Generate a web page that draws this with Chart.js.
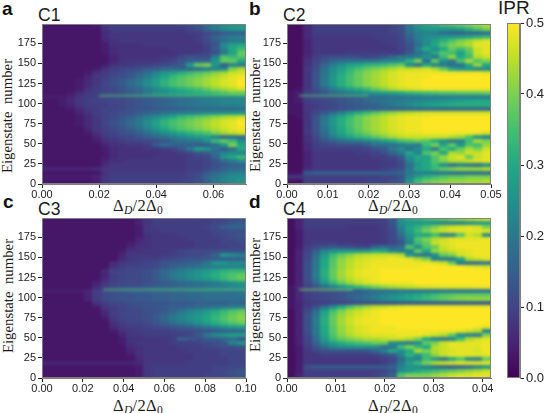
<!DOCTYPE html>
<html>
<head>
<meta charset="utf-8">
<script src="https://cdn.jsdelivr.net/npm/chart.js@4"></script>
<style>
html,body{margin:0;padding:0;background:#fff;overflow:hidden}
#page{position:relative;width:545px;height:413px;overflow:hidden}
canvas{position:absolute}
.t{position:absolute;white-space:pre;line-height:1;color:#1a1a1a;font-family:"Liberation Sans",sans-serif}
.letter{font-weight:bold;font-size:19px;color:#111}
.run{font-size:17.5px}
.ylab{font-family:"Liberation Serif",serif;font-size:14.8px;transform:translate(-50%,-50%) rotate(-90deg)}
.xlab{font-family:"Liberation Serif",serif;font-size:16.5px;letter-spacing:.3px;transform:translate(-50%,-50%)}
.xlab sub{font-size:70%;line-height:0;vertical-align:-3px}
</style>
</head>
<body>
<div id="page">
<span class="t letter" style="left:2px;top:-1px">a</span>
<span class="t letter" style="left:249px;top:-1px">b</span>
<span class="t letter" style="left:3px;top:192px">c</span>
<span class="t letter" style="left:249px;top:192px">d</span>
<span class="t run" style="left:38px;top:7px">C1</span>
<span class="t run" style="left:283px;top:7px">C2</span>
<span class="t run" style="left:38px;top:201px">C3</span>
<span class="t run" style="left:283px;top:201px">C4</span>
<span class="t" style="left:498px;top:-2px;font-size:19px">IPR</span>
<span class="t ylab" style="left:7px;top:116px">Eigenstate  number</span>
<span class="t ylab" style="left:255px;top:115px">Eigenstate  number</span>
<span class="t ylab" style="left:8px;top:296px">Eigenstate  number</span>
<span class="t ylab" style="left:255px;top:295px">Eigenstate  number</span>
<span class="t xlab" style="left:138px;top:206px">Δ<sub><i>D</i></sub>/2Δ<sub>0</sub></span>
<span class="t xlab" style="left:393px;top:206px">Δ<sub><i>D</i></sub>/2Δ<sub>0</sub></span>
<span class="t xlab" style="left:138px;top:406px">Δ<sub><i>D</i></sub>/2Δ<sub>0</sub></span>
<span class="t xlab" style="left:393px;top:406px">Δ<sub><i>D</i></sub>/2Δ<sub>0</sub></span>
</div>
<script>
// colour map of the bar, every 0.05 of IPR
var viridisStops = ["#440154","#482475","#414487","#355f8d","#2a788e","#21918c","#22a884","#44bf70","#7ad151","#bddf26","#fde725"];

var eigenstateRows = [197,192,187,182,177,172,167,162,157,152,147,142,137,132,127,122,117,112,107,102,97,92,87,82,77,72,67,62,57,52,47,42,37,32,27,22,17,12,7,2];
var yTicks = [0,25,50,75,100,125,150,175];
var colourTicks = [0,0.1,0.2,0.3,0.4,0.5];

var xMaxC1 = 0.0714, xMaxC2 = 0.05, xMaxC3 = 0.1, xMaxC4 = 0.0417;

// IPR x 100, one line per eigenstate row, top row first
var iprC1 = [
[3,3,3,3,3,3,4,8,9,9,9,9,9,9,9,9,10,11,13,17,21,24,26,27],
[3,3,3,3,3,3,3,7,9,9,9,9,9,9,9,9,9,10,12,17,21,24,26,27],
[3,3,3,3,3,3,3,6,8,8,8,8,8,8,8,8,8,9,9,11,12,14,15,15],
[3,3,3,3,3,3,3,6,8,8,8,8,8,8,8,8,8,8,9,12,16,19,21,22],
[3,3,3,3,3,3,3,5,7,8,8,8,8,8,8,8,8,8,9,11,14,18,20,20],
[3,3,3,3,3,3,3,4,7,7,7,7,8,8,8,8,8,8,8,10,13,24,28,30],
[3,3,3,3,3,3,3,4,6,7,7,7,7,7,7,8,8,8,8,9,14,22,30,34],
[3,3,3,3,3,3,3,4,6,7,7,7,7,7,7,7,8,8,9,10,12,20,28,38],
[3,3,3,3,3,3,3,3,5,7,7,7,7,7,8,8,11,13,12,12,22,36,34,36],
[3,3,3,3,3,3,3,3,5,7,8,8,8,8,9,10,13,15,16,16,26,38,38,30],
[3,3,3,3,3,3,3,4,7,8,8,9,9,10,11,13,14,28,38,40,26,14,22,20],
[3,3,3,3,3,3,4,7,9,10,11,12,14,15,17,17,16,17,18,20,22,24,40,44],
[3,3,3,3,3,4,7,9,10,11,13,15,18,22,26,28,31,34,36,38,41,43,46,47],
[3,3,3,3,3,5,8,9,11,12,14,17,21,25,29,33,36,38,40,42,44,46,48,49],
[3,3,3,3,4,6,8,10,12,14,17,20,24,28,32,35,37,39,41,43,45,47,48,50],
[3,3,3,3,4,6,8,10,12,14,17,20,24,28,32,35,37,39,41,43,45,47,48,50],
[3,3,3,3,4,7,9,10,11,13,15,17,20,23,26,29,31,33,35,38,41,43,45,47],
[3,3,3,4,6,8,9,10,11,12,14,16,20,24,25,27,28,30,31,32,34,36,38,38],
[4,4,4,5,8,9,9,10,10,11,12,13,14,15,16,17,18,18,19,20,20,21,21,22],
[3,3,4,6,8,9,10,10,11,11,12,13,14,15,16,17,18,19,20,21,22,23,23,23],
[3,3,4,5,8,9,9,9,10,11,12,13,14,15,16,17,18,19,20,20,21,22,22,22],
[3,3,3,4,6,8,9,10,10,11,12,13,13,14,15,15,16,17,17,17,17,17,17,18],
[3,3,3,3,5,7,9,10,11,12,13,14,16,17,19,20,21,22,23,24,25,25,26,26],
[3,3,3,3,4,6,8,10,11,13,15,18,21,24,27,30,33,35,37,39,41,43,44,46],
[3,3,3,3,4,6,8,10,12,14,17,20,24,28,32,35,37,39,41,43,45,47,48,50],
[3,3,3,3,4,6,8,10,12,14,17,20,24,28,32,35,37,39,41,43,45,47,48,50],
[3,3,3,3,3,5,8,9,11,13,15,18,22,26,30,33,36,38,40,42,44,46,48,49],
[3,3,3,3,3,4,7,9,10,12,13,15,18,21,24,27,30,32,34,36,40,43,45,47],
[3,3,3,3,3,3,5,8,9,10,11,13,15,17,19,21,23,25,27,28,22,17,18,18],
[3,3,3,3,3,3,4,7,8,9,10,10,11,12,13,16,18,19,20,25,34,38,34,24],
[3,3,3,3,3,3,3,5,7,7,8,8,9,14,18,16,15,15,14,15,18,26,40,30],
[3,3,3,3,3,3,3,4,6,7,7,7,8,8,9,10,14,20,28,26,18,14,18,30],
[3,3,3,3,3,3,3,4,6,7,7,7,7,7,8,8,9,10,13,14,18,22,24,22],
[3,3,3,3,3,3,3,4,6,7,7,7,7,8,8,8,8,9,10,11,16,26,30,34],
[3,3,3,3,3,3,3,5,7,7,8,8,8,8,8,8,8,9,9,10,13,17,20,24],
[3,3,3,3,3,3,3,6,8,8,8,8,8,8,8,8,8,9,9,10,12,14,16,16],
[5,5,5,5,5,5,6,8,8,8,8,8,8,8,8,8,8,9,9,11,13,15,17,18],
[3,3,3,3,3,3,3,7,9,9,9,9,9,9,9,9,9,10,11,14,17,19,21,22],
[4,4,4,4,4,4,5,8,9,9,9,9,9,9,9,9,9,10,12,16,19,22,24,25],
[3,3,3,3,3,3,4,8,9,9,9,9,9,9,9,9,10,10,12,16,20,22,24,26]
];

var iprC2 = [
[2,2,6,9,9,9,9,9,9,9,9,9,10,12,20,26,29,31,34,36,38,40,42,44],
[2,2,6,9,9,9,9,9,9,9,9,9,10,12,19,24,27,27,26,26,28,32,36,40],
[2,2,6,9,9,9,9,9,9,9,9,9,10,11,17,21,22,21,18,16,16,17,17,18],
[2,2,6,8,8,8,8,8,8,8,9,9,9,11,16,21,24,25,26,27,28,30,32,34],
[2,2,5,8,8,8,8,8,8,8,8,9,9,10,14,20,24,28,32,36,40,43,46,48],
[2,2,5,8,8,8,8,8,8,8,8,8,9,10,13,18,24,30,36,40,42,44,48,48],
[2,2,5,8,8,8,8,8,8,8,8,8,8,10,12,22,30,24,30,38,34,38,46,48],
[2,2,5,8,8,8,8,9,9,9,9,9,9,9,14,18,22,30,36,34,28,36,46,48],
[2,2,6,9,11,12,12,12,11,10,11,13,16,20,20,22,26,20,34,42,30,34,44,46],
[2,2,7,10,13,16,18,19,19,20,20,22,23,24,32,40,18,38,24,20,36,44,36,40],
[2,2,7,11,16,21,25,28,30,32,33,34,36,38,24,18,30,22,20,18,18,30,42,30],
[2,2,8,12,18,24,28,32,35,38,40,42,44,46,45,46,47,44,38,30,26,26,22,24],
[2,2,8,13,19,25,30,34,38,41,43,45,47,48,49,49,49,49,49,49,49,49,49,48],
[2,2,8,13,20,26,31,35,38,41,43,45,47,48,49,49,49,50,50,50,50,50,50,50],
[2,2,8,13,20,26,31,35,38,41,43,45,47,48,49,49,50,50,50,50,50,50,50,50],
[2,2,8,13,20,26,31,35,38,41,43,45,47,48,49,49,50,50,50,50,50,50,50,50],
[2,3,8,12,16,21,25,28,31,34,38,41,44,46,47,48,49,49,49,49,49,49,49,49],
[3,4,9,11,13,16,18,20,22,24,26,27,28,30,32,33,34,35,36,36,37,37,37,38],
[3,4,9,10,11,12,13,14,15,17,18,18,19,19,20,20,21,21,21,21,21,21,21,21],
[3,4,9,10,11,12,13,14,15,17,18,19,20,21,22,23,24,25,26,27,28,29,30,30],
[3,3,8,9,10,11,12,13,14,15,16,18,20,22,24,26,28,29,30,31,31,31,31,31],
[3,3,8,9,10,11,12,13,14,15,15,16,16,16,17,17,17,17,17,17,17,17,17,17],
[3,3,8,11,14,18,22,27,31,34,37,40,42,44,45,46,47,47,47,47,47,47,47,47],
[2,3,8,13,19,25,30,34,38,41,43,45,47,48,49,49,49,50,50,50,50,50,50,50],
[2,2,8,13,20,26,31,35,38,41,43,45,47,48,49,49,50,50,50,50,50,50,50,50],
[2,2,8,13,20,26,31,35,38,41,43,45,47,48,49,49,50,50,50,50,50,50,50,50],
[2,2,8,13,19,25,30,34,38,41,43,45,47,48,49,49,50,50,50,50,50,50,50,50],
[2,2,8,12,18,24,29,33,36,39,42,44,46,47,48,48,49,49,49,49,49,49,49,47],
[2,2,7,11,16,21,25,29,32,34,37,40,43,45,46,46,46,46,46,44,42,36,26,22],
[2,2,7,10,13,15,17,19,20,22,24,27,30,34,36,38,36,30,24,20,22,34,44,40],
[2,2,6,9,10,11,12,12,12,14,18,18,18,20,22,20,34,40,30,38,26,36,34,42],
[2,2,6,9,9,9,9,9,9,10,12,14,20,24,18,24,30,20,36,30,38,44,40,46],
[2,2,5,8,8,8,8,8,9,9,10,12,16,20,30,22,36,40,30,44,42,46,46,48],
[2,2,5,8,8,8,8,8,8,8,9,9,11,14,24,30,28,36,42,46,48,38,46,48],
[2,2,5,8,8,8,8,8,8,8,8,9,9,12,22,28,30,36,40,44,44,46,47,48],
[2,2,5,8,8,8,8,8,8,8,8,9,9,11,18,26,30,34,24,18,22,20,18,24],
[2,2,6,8,8,8,8,8,8,8,8,9,10,12,20,28,30,34,38,40,42,42,42,44],
[3,3,14,15,15,15,15,15,15,15,15,15,15,16,20,22,22,20,20,18,18,18,18,18],
[8,8,9,9,9,9,9,9,9,9,9,10,10,12,22,28,32,34,36,38,38,40,40,40],
[2,2,9,9,9,9,9,9,9,10,10,10,12,14,26,34,38,40,41,42,42,43,43,44]
];

var iprC3 = [
[3,3,3,3,3,3,3,3,3,3,3,5,8,9,9,9,9,9,9,9,10,11,12,13],
[3,3,3,3,3,3,3,3,3,3,3,5,8,9,9,9,9,9,9,9,10,11,13,14],
[3,3,3,3,3,3,3,3,3,3,3,4,8,9,9,9,9,9,9,10,12,15,16,16],
[3,3,3,3,3,3,3,3,3,3,3,4,8,8,9,9,9,9,9,9,10,11,12,12],
[3,3,3,3,3,3,3,3,3,3,3,4,7,8,8,8,9,9,9,9,10,11,12,13],
[3,3,3,3,3,3,3,3,3,3,3,5,7,8,8,8,8,9,9,9,9,10,11,12],
[3,3,3,3,3,3,3,3,3,3,4,6,7,8,8,8,8,8,9,9,9,10,10,11],
[3,3,3,3,3,3,3,3,3,3,5,7,7,8,8,8,8,8,9,9,9,9,10,10],
[3,3,3,3,3,3,3,3,3,4,7,7,8,8,8,9,10,11,11,11,12,12,12,12],
[3,3,3,3,3,3,3,3,3,5,8,8,8,8,9,9,10,11,11,12,16,26,24,22],
[3,3,3,3,3,3,3,3,3,6,8,9,9,9,10,11,12,13,13,14,14,15,15,15],
[3,3,3,3,3,3,3,3,6,8,9,9,10,11,13,14,14,15,16,20,26,26,24,24],
[3,3,3,3,3,3,3,3,7,9,10,10,10,11,13,15,17,18,19,20,21,22,22,22],
[3,3,3,3,3,3,3,6,10,10,11,11,12,14,17,19,21,23,25,27,30,32,33,33],
[3,3,3,3,3,3,3,5,9,10,11,11,12,14,17,20,22,24,26,29,31,34,36,38],
[3,3,3,3,3,3,3,6,9,10,11,11,12,14,16,19,21,23,25,27,30,33,36,38],
[3,3,3,3,3,3,5,8,10,11,11,11,12,13,14,15,16,17,18,19,20,22,24,26],
[3,3,3,3,3,3,6,9,11,12,13,13,14,15,15,16,17,18,19,20,21,22,23,24],
[4,4,4,4,4,5,9,11,12,13,14,15,15,16,16,17,17,18,18,19,19,19,19,20],
[3,3,3,3,3,5,9,11,12,13,13,14,14,15,15,16,16,17,17,18,18,18,18,19],
[3,3,3,3,3,5,9,11,12,13,13,14,14,15,15,16,16,17,17,18,18,18,18,18],
[3,3,3,3,3,3,7,9,11,11,12,12,13,13,13,14,14,14,15,15,15,15,16,16],
[3,3,3,3,3,3,4,8,9,10,11,12,13,13,14,15,15,16,17,18,19,20,21,22],
[3,3,3,3,3,3,3,6,9,10,11,11,12,13,14,16,19,22,24,27,30,33,36,38],
[3,3,3,3,3,3,3,5,9,10,11,11,12,14,16,19,22,24,26,29,32,35,38,40],
[3,3,3,3,3,3,3,4,8,10,10,11,12,14,17,20,22,25,27,30,33,36,39,41],
[3,3,3,3,3,3,3,3,7,9,10,10,11,13,15,18,20,22,25,28,31,34,36,38],
[3,3,3,3,3,3,3,3,6,8,9,9,10,11,12,13,14,15,17,20,22,25,27,28],
[3,3,3,3,3,3,3,3,4,7,8,9,9,9,9,10,11,11,12,13,14,15,16,17],
[3,3,3,3,3,3,3,3,3,5,8,8,9,9,9,9,9,10,14,20,24,26,28,28],
[3,3,3,3,3,3,3,3,3,4,7,7,8,8,8,9,16,14,12,14,14,16,18,14],
[3,3,3,3,3,3,3,3,3,4,7,8,8,8,8,9,9,9,10,11,12,14,22,26],
[3,3,3,3,3,3,3,3,3,3,6,7,8,8,8,8,9,9,9,10,11,12,12,13],
[3,3,3,3,3,3,3,3,3,3,5,7,8,8,8,8,8,9,9,9,9,10,10,10],
[3,3,3,3,3,3,3,3,3,3,4,7,8,8,8,8,8,8,9,9,9,10,10,10],
[3,3,3,3,3,3,3,3,3,3,3,6,8,8,8,8,8,8,9,9,9,9,10,10],
[5,5,5,5,5,5,5,5,5,5,5,6,8,8,8,8,8,9,9,9,9,9,10,10],
[3,3,3,3,3,3,3,3,3,3,3,4,8,9,9,9,9,9,9,9,10,10,11,11],
[3,3,3,3,3,3,3,3,3,3,3,4,8,9,9,9,9,9,9,9,10,11,12,13],
[3,3,3,3,3,3,3,3,3,3,3,4,8,9,9,9,9,9,9,10,10,11,12,13]
];

var iprC4 = [
[2,5,9,9,9,9,9,9,9,9,9,10,14,26,30,32,34,36,38,40,42,44,46,47],
[2,5,9,9,9,9,9,9,9,9,9,9,13,24,26,26,26,24,22,22,22,24,26,28],
[2,5,9,9,9,9,9,8,8,8,8,9,12,22,28,32,36,40,44,46,47,48,47,40],
[2,4,8,8,8,8,8,8,8,8,8,9,11,20,28,34,40,44,46,48,48,48,48,48],
[2,4,8,8,8,8,8,8,8,8,8,9,11,18,26,30,28,34,22,22,36,46,44,24],
[2,4,8,8,8,8,8,8,8,8,8,9,11,15,24,36,40,44,46,48,48,48,48,49],
[2,4,8,9,9,9,8,8,8,8,8,8,10,13,22,34,38,46,47,48,49,49,49,49],
[2,4,9,11,13,14,13,12,11,10,16,18,16,18,36,24,36,38,46,48,49,49,49,49],
[2,5,10,15,22,25,26,26,26,27,30,30,22,20,22,38,30,42,44,46,47,48,49,49],
[2,5,11,18,27,34,38,41,44,45,46,46,46,44,26,20,19,24,38,40,47,48,49,49],
[2,5,11,19,29,36,41,44,46,47,48,48,49,49,48,44,40,22,20,20,30,44,46,48],
[2,5,12,20,30,37,42,45,47,48,49,49,49,49,49,49,49,48,46,38,20,18,18,20],
[2,5,12,20,30,37,42,45,47,48,49,49,49,49,49,49,50,50,50,50,50,49,48,47],
[2,5,12,21,31,38,43,46,48,49,49,50,50,50,50,50,50,50,50,50,50,50,50,50],
[2,5,12,21,31,38,43,46,48,49,49,50,50,50,50,50,50,50,50,50,50,50,50,50],
[2,5,12,20,30,37,42,45,47,48,49,50,50,50,50,50,50,50,50,50,50,50,50,50],
[2,5,11,17,26,33,38,42,45,47,48,49,49,49,49,50,50,50,50,50,50,50,50,50],
[3,6,10,13,17,21,25,29,33,36,39,41,43,44,45,46,47,47,48,48,48,48,49,49],
[3,6,9,10,11,12,13,14,15,16,18,18,19,20,20,20,20,20,20,20,20,20,20,20],
[3,6,9,10,11,12,13,15,16,18,20,22,24,26,28,30,32,34,36,37,38,38,38,38],
[3,6,9,10,11,12,13,15,17,19,21,24,26,28,30,32,34,36,38,40,41,42,42,42],
[3,5,8,9,9,10,10,11,12,12,13,13,13,14,14,14,14,14,14,14,14,14,14,14],
[3,5,9,12,18,25,31,36,40,43,45,46,47,48,49,49,49,49,49,49,49,49,49,49],
[2,5,11,18,28,35,40,44,46,48,49,50,50,50,50,50,50,50,50,50,50,50,50,50],
[2,5,12,20,30,37,42,45,47,48,49,50,50,50,50,50,50,50,50,50,50,50,50,50],
[2,5,12,21,31,38,43,46,48,49,49,50,50,50,50,50,50,50,50,50,50,50,50,50],
[2,5,12,21,31,38,43,46,48,49,49,50,50,50,50,50,50,50,50,50,50,50,50,50],
[2,5,12,20,30,37,42,45,47,48,49,49,49,50,50,50,50,50,50,50,50,50,49,48],
[2,5,12,20,30,37,42,45,47,48,49,49,49,49,49,49,49,49,49,49,48,46,44,22],
[2,5,11,19,29,36,41,44,46,47,48,48,48,49,49,49,48,46,44,38,24,22,20,40],
[2,5,10,18,27,34,38,40,42,44,44,45,46,46,44,40,30,22,20,22,34,44,46,48],
[2,5,10,16,23,28,31,33,35,36,38,38,24,22,20,24,38,40,46,48,48,48,48,49],
[2,4,9,13,18,22,24,25,26,25,24,18,20,34,40,34,30,44,46,48,48,48,48,49],
[2,4,8,10,12,13,13,12,12,13,16,22,30,24,30,44,40,44,46,47,48,48,47,49],
[2,4,8,8,9,9,9,9,9,9,10,12,14,22,32,26,34,42,46,48,48,48,48,48],
[2,4,8,8,8,8,8,8,8,8,8,9,10,17,24,22,34,26,20,30,36,24,22,38],
[2,4,8,8,8,8,8,8,8,8,8,9,12,20,28,34,40,44,46,47,48,48,48,48],
[2,4,12,14,14,14,14,14,14,14,14,14,16,22,26,24,22,18,16,15,16,18,22,26],
[2,4,9,9,9,9,9,9,9,9,9,10,13,24,26,30,32,34,36,38,40,42,44,46],
[2,5,9,9,9,9,9,9,9,9,10,12,16,36,40,40,40,42,44,46,47,47,48,48]
];

// the thin bright state near 110: x start, x end, IPR
var line110C1 = [0.02, 0.0714, 0.36];
var line110C2 = [0.003, 0.02, 0.36];
var line110C3 = [0.03, 0.1, 0.36];
var line110C4 = [0.0025, 0.0135, 0.4];

function hexToRgb(h){
	return [parseInt(h.substr(1,2),16), parseInt(h.substr(3,2),16), parseInt(h.substr(5,2),16)];
}
function iprColor(v){
	var t = Math.max(0, Math.min(1, v/0.5))*(viridisStops.length-1);
	var i = Math.min(Math.floor(t), viridisStops.length-2);
	var a = hexToRgb(viridisStops[i]), b = hexToRgb(viridisStops[i+1]), f = t-i;
	return "rgb("+Math.round(a[0]+(b[0]-a[0])*f)+","+Math.round(a[1]+(b[1]-a[1])*f)+","+Math.round(a[2]+(b[2]-a[2])*f)+")";
}

var tickFont = {family:"Liberation Sans", size:11};
var tickColor = "#222";

// softens the cells like the interpolated image of the original, then frames the plot
var imagePlugin = {
	id:"imagePlugin",
	afterDatasetsDraw:function(chart){
		if(chart.config.type!=="scatter") return;
		var a = chart.chartArea, ctx = chart.ctx;
		ctx.save();
		ctx.beginPath();
		ctx.rect(a.left,a.top,a.width,a.height);
		ctx.clip();
		ctx.filter = "blur(1.5px)";
		ctx.drawImage(chart.canvas,a.left,a.top,a.width,a.height,a.left,a.top,a.width,a.height);
		ctx.restore();
	},
	afterDraw:function(chart){
		var a = chart.chartArea, ctx = chart.ctx;
		ctx.save();
		ctx.strokeStyle = "#7f7f7f";
		ctx.lineWidth = 1;
		ctx.strokeRect(a.left+0.5,a.top+0.5,a.width-1,a.height-1);
		ctx.restore();
	}
};

function makePanel(left, top, xMax, xStep, rows, line110){
	var canvas = document.createElement("canvas");
	var W = 204+42+16, H = 161+16+2;
	canvas.width = W; canvas.height = H;
	canvas.style.left = (left-42)+"px";
	canvas.style.top = (top-2)+"px";
	document.getElementById("page").appendChild(canvas);

	var cellW = Math.ceil(204/24)+1, cellH = Math.ceil(161/40)+1;
	var stamps = {};
	function stamp(v){
		if(!stamps[v]){
			var c = document.createElement("canvas");
			c.width = cellW; c.height = cellH;
			var g = c.getContext("2d");
			g.fillStyle = iprColor(v/100);
			g.fillRect(0,0,cellW,cellH);
			stamps[v] = c;
		}
		return stamps[v];
	}

	var cells = [];
	rows.forEach(function(row,r){
		row.forEach(function(v,i){
			cells.push({x:(i+0.5)*xMax/24, y:eigenstateRows[r], v:v});
		});
	});

	new Chart(canvas,{
		type:"scatter",
		data:{datasets:[
			{
				data:cells,
				pointRadius:3,
				pointHoverRadius:3,
				pointBorderWidth:0,
				pointStyle:function(ctx){ return ctx.raw ? stamp(ctx.raw.v) : "rect"; },
				order:2
			},
			{
				data:[{x:line110[0],y:110},{x:line110[1],y:110}],
				showLine:true,
				pointRadius:0,
				borderWidth:1.3,
				borderColor:iprColor(line110[2]),
				order:1
			}
		]},
		options:{
			responsive:false,
			animation:false,
			events:[],
			layout:{padding:{top:2,right:16,left:0,bottom:0}},
			plugins:{legend:{display:false},tooltip:{enabled:false}},
			scales:{
				x:{
					type:"linear",min:0,max:xMax,
					grid:{drawOnChartArea:false,tickLength:4,color:tickColor},
					border:{color:"#7f7f7f"},
					ticks:{stepSize:xStep,includeBounds:false,maxRotation:0,autoSkip:false,padding:0,color:tickColor,font:tickFont,
						callback:function(v){return v.toFixed(2);}},
					afterFit:function(s){s.height=16;s.paddingLeft=0;s.paddingRight=0;}
				},
				y:{
					type:"linear",min:0,max:199,
					grid:{drawOnChartArea:false,tickLength:4,color:tickColor},
					border:{color:"#7f7f7f"},
					afterBuildTicks:function(s){s.ticks=yTicks.map(function(v){return {value:v};});},
					ticks:{autoSkip:false,padding:2,color:tickColor,font:tickFont},
					afterFit:function(s){s.width=42;s.paddingTop=0;s.paddingBottom=0;}
				}
			}
		},
		plugins:[imagePlugin]
	});
}

makePanel(42,23,xMaxC1,0.02,iprC1,line110C1);
makePanel(287,23,xMaxC2,0.01,iprC2,line110C2);
makePanel(42,217,xMaxC3,0.02,iprC3,line110C3);
makePanel(287,217,xMaxC4,0.01,iprC4,line110C4);

// colour bar
var barCanvas = document.createElement("canvas");
barCanvas.width = 45; barCanvas.height = 400;
barCanvas.style.left = "500px";
barCanvas.style.top = "0px";
document.getElementById("page").appendChild(barCanvas);
new Chart(barCanvas,{
	type:"bar",
	data:{
		labels:["IPR"],
		datasets:[{
			data:[[colourTicks[0],colourTicks[colourTicks.length-1]]],
			barPercentage:1,
			categoryPercentage:1,
			borderWidth:0,
			backgroundColor:function(ctx){
				var a = ctx.chart.chartArea;
				if(!a) return viridisStops[0];
				var g = ctx.chart.ctx.createLinearGradient(0,a.bottom,0,a.top);
				viridisStops.forEach(function(c,i){ g.addColorStop(i/(viridisStops.length-1),c); });
				return g;
			}
		}]
	},
	options:{
		responsive:false,
		animation:false,
		events:[],
		layout:{padding:{top:23,left:7,right:0,bottom:22}},
		plugins:{legend:{display:false},tooltip:{enabled:false}},
		scales:{
			x:{display:false},
			y:{
				position:"right",min:0,max:0.5,
				grid:{drawOnChartArea:false,tickLength:4,color:tickColor},
				border:{color:"#7f7f7f"},
				ticks:{stepSize:0.1,padding:2,color:tickColor,font:{family:"Liberation Sans",size:13},
					callback:function(v){return v.toFixed(1);}},
				afterFit:function(s){s.width=25;s.paddingTop=0;s.paddingBottom=0;}
			}
		}
	},
	plugins:[imagePlugin]
});
</script>
</body>
</html>
